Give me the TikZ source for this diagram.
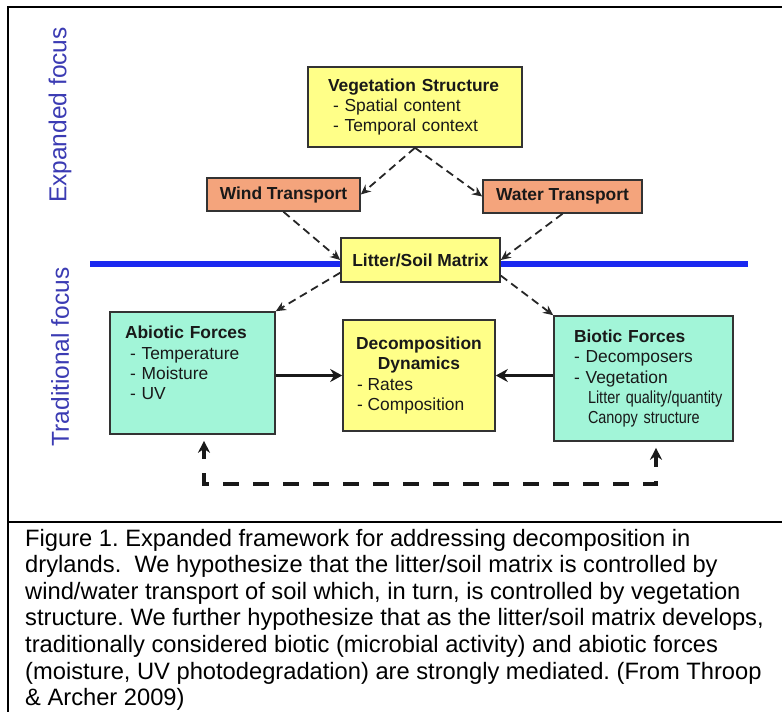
\documentclass[tikz,border=0pt]{standalone}
\usepackage{fontspec}
\setmainfont{Liberation Sans}
\newfontfamily\narrowsf[FakeStretch=0.83]{Liberation Sans}
\usepackage{xcolor}
\usepackage{tikz}
\usetikzlibrary{arrows.meta, positioning, calc}

\definecolor{boxyellow}{HTML}{FFFF88}
\definecolor{boxsalmon}{HTML}{F4A47C}
\definecolor{boxmint}{HTML}{A2F5D8}
\definecolor{focusblue}{HTML}{3B3BB3}
\definecolor{linkblue}{HTML}{1A28F0}

\begin{document}
\frenchspacing
\begin{tikzpicture}[
    x=1pt, y=-1pt,
    block/.style={
        rectangle,
        draw=black!80,
        line width=1.6pt,
        inner sep=0pt,
        text=black!90,
        align=left,
        font=\fontsize{17.4}{20.2}\selectfont
    },
    yellowblock/.style={block, fill=boxyellow},
    transport/.style={block, fill=boxsalmon, align=center, font=\fontsize{17.4}{20.2}\selectfont\bfseries},
    forces/.style={block, fill=boxmint},
    focuslabel/.style={rotate=90, text=focusblue, inner sep=0pt, font=\fontsize{24.5}{28}\selectfont},
    caption/.style={anchor=base west, inner sep=0pt, font=\fontsize{23.7}{26.6}\selectfont},
    dasharrow/.style={
        -{Stealth[length=10pt, width=9pt]},
        line width=1.8pt,
        dash pattern=on 8pt off 5pt,
        color=black!85
    },
    flowarrow/.style={
        -{Stealth[length=12pt, width=13pt]},
        line width=3pt,
        color=black!90
    },
    feedback/.style={
        {Stealth[length=12pt, width=12pt]}-{Stealth[length=12pt, width=12pt]},
        line width=3.5pt,
        dash pattern=on 16pt off 14pt,
        dash phase=5pt,
        shorten <=6pt, shorten >=6pt,
        color=black!90
    }
]

\useasboundingbox (0,0) rectangle (782,712);

% frame round figure and caption
\draw[line width=2.5pt] (8,712) -- (8,7) -- (782,7);
\draw[line width=2.5pt] (8,522) -- (782,522);

% boundary between the two foci
\coordinate (divL) at (90,264);
\coordinate (divR) at (748,264);
\draw[line width=6pt, linkblue] (divL) -- (divR);

\node[focuslabel] (expanded) at (60,115) {Expanded focus};
\node[focuslabel] (traditional) at (60,357) {Traditional focus};

\node[yellowblock, minimum width=214pt, minimum height=80pt, text width=174pt] (veg) at (415,107)
    {\textbf{Vegetation Structure}\\\hspace*{5pt}- Spatial content\\\hspace*{5pt}- Temporal context};
\node[transport, minimum width=153pt, minimum height=33pt] (wind) at (283.5,194.5) {Wind Transport};
\node[transport, minimum width=159pt, minimum height=33pt] (water) at (562.5,196.5) {Water Transport};
\node[yellowblock, align=center, minimum width=159pt, minimum height=44pt] (litter) at (420.5,260)
    {\textbf{Litter/Soil Matrix}};

\node[forces, minimum width=165pt, minimum height=122pt, text width=135pt] (abiotic) at (192.5,373)
    {\textbf{Abiotic Forces}\\\hspace*{5pt}- Temperature\\\hspace*{5pt}- Moisture\\\hspace*{5pt}- UV\\\mbox{}};
\node[yellowblock, align=center, minimum width=152pt, minimum height=111pt] (decomp) at (419,375.5)
    {\textbf{Decomposition}\\\textbf{Dynamics}\\\makebox[124pt][l]{- Rates}\\\makebox[124pt][l]{- Composition}};
\node[forces, minimum width=179pt, minimum height=125pt, text width=139pt] (biotic) at (643.5,378.5)
    {\textbf{Biotic Forces}\\- Decomposers\\- Vegetation\\\hspace*{14pt}\mbox{\narrowsf Litter quality/quantity}\\\hspace*{14pt}\mbox{\narrowsf Canopy structure}};

\draw[dasharrow] (veg.south) -- (wind.east);
\draw[dasharrow] (veg.south) -- (water.west);
\draw[dasharrow] (wind.south) -- (litter.west);
\draw[dasharrow] (water.south) -- (litter.east);
\draw[dasharrow] (litter.189) -- (abiotic.north east);
\draw[dasharrow] (litter.-11) -- (biotic.north west);

\draw[flowarrow] (abiotic.east |- decomp.west) -- (decomp.west);
\draw[flowarrow] (biotic.west |- decomp.east) -- (decomp.east);

\coordinate (fbL) at (204,484);
\coordinate (fbR) at (656,484);
\draw[feedback] (abiotic.south -| fbL) -- (fbL) -- (fbR) -- (biotic.south -| fbR);

% caption text, one node per printed line
\foreach \capline [count=\i] in {
    {Figure 1. Expanded framework for addressing decomposition in},
    {drylands.\ \ We hypothesize that the litter/soil matrix is controlled by},
    {wind/water transport of soil which, in turn, is controlled by vegetation},
    {structure. We further hypothesize that as the litter/soil matrix develops,},
    {traditionally considered biotic (microbial activity) and abiotic forces},
    {(moisture, UV photodegradation) are strongly mediated. (From Throop},
    {\& Archer 2009)}}
    \node[caption] (cap\i) at (25,{546+26.6*(\i-1)}) {\capline};

\end{tikzpicture}
\end{document}
